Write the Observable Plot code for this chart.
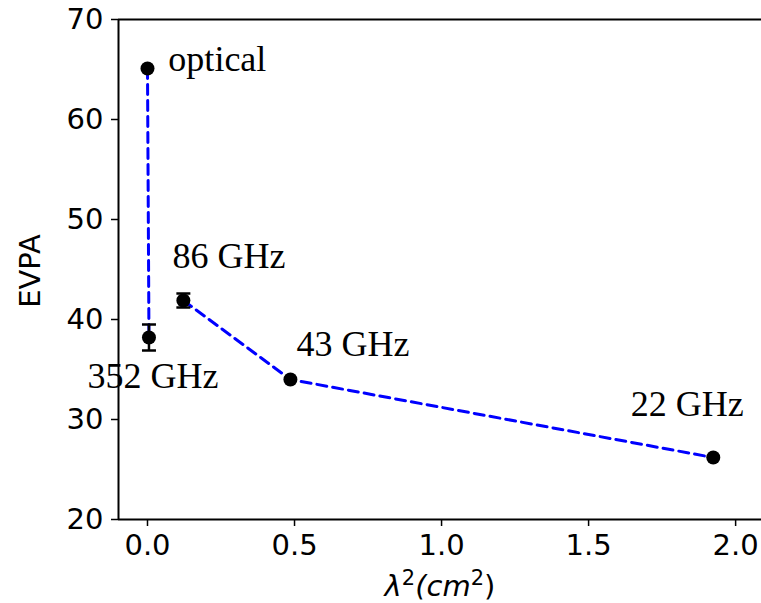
<!DOCTYPE html>
<html>
<head>
<meta charset="utf-8">
<script src="https://cdn.jsdelivr.net/npm/d3@7"></script>
<script src="https://cdn.jsdelivr.net/npm/@observablehq/plot@0.6"></script>
<style>
  html, body { margin: 0; padding: 0; background: #fff; }
  #chart svg { display: block; }
</style>
</head>
<body>
<div id="chart"></div>
<script>
// Data (λ² in cm², EVPA in degrees)
const bands  = ["optical", "352 GHz", "86 GHz", "43 GHz", "22 GHz"];
const lambda2 = [0.0, 0.005, 0.122, 0.486, 1.924];
const evpa    = [65.1, 38.2, 41.9, 34.0, 26.2];
const evpaErr = [0.3, 1.3, 0.7, 0.3, 0.3];
const segment = ["a", "a", "b", "b", "b"];

// label anchor positions (data coordinates)
const labelX = [0.071, -0.204, 0.085, 0.507, 1.643];
const labelY = [64.9, 33.2, 45.2, 36.4, 30.4];

const xTicks = [0, 0.5, 1.0, 1.5, 2.0];
const yTicks = [20, 30, 40, 50, 60, 70];
const xDomain = [-0.0986, 2.088];
const yDomain = [20, 70];

const data = bands.map((b, i) => ({
  band: b, x: lambda2[i], y: evpa[i], err: evpaErr[i], seg: segment[i],
  lx: labelX[i], ly: labelY[i]
}));
const errData = data.filter(d => d.err >= 0.5);

const capSymbol = {
  draw(ctx, size) {
    const w = 7;
    ctx.moveTo(-w, 0);
    ctx.lineTo(w, 0);
  }
};

const chart = Plot.plot({
  width: 761,
  height: 603,
  marginLeft: 118,
  marginRight: 0,
  marginTop: 19,
  marginBottom: 84,
  x: { domain: xDomain },
  y: { domain: yDomain },
  style: { fontFamily: "DejaVu Sans", background: "white", color: "black", overflow: "visible" },
  marks: [
    Plot.axisY(yTicks, { tickSize: 7, tickPadding: 8, fontSize: 29, label: null, strokeWidth: 1.5 }),
    Plot.axisX(xTicks, { tickSize: 7, tickPadding: 8, fontSize: 29, label: null, tickFormat: d3.format(".1f"), strokeWidth: 1.5 }),
    Plot.ruleY([yDomain[0], yDomain[1]], { stroke: "black", strokeWidth: 2 }),
    Plot.ruleX([xDomain[0]], { stroke: "black", strokeWidth: 2 }),
    Plot.line(data, { x: "x", y: "y", z: "seg", stroke: "#0000ff", strokeWidth: 3, strokeDasharray: "10,6" }),
    Plot.ruleX(errData, { x: "x", y1: d => d.y - d.err, y2: d => d.y + d.err, stroke: "black", strokeWidth: 2.5 }),
    Plot.dot(errData, { x: "x", y: d => d.y - d.err, symbol: capSymbol, stroke: "black", strokeWidth: 2.5, r: 7 }),
    Plot.dot(errData, { x: "x", y: d => d.y + d.err, symbol: capSymbol, stroke: "black", strokeWidth: 2.5, r: 7 }),
    Plot.dot(data, { x: "x", y: "y", r: 7, fill: "black" }),
    Plot.text(data, { x: "lx", y: "ly", text: "band", textAnchor: "start", lineAnchor: "bottom", fontFamily: "Liberation Serif", fontSize: 36, fill: "black" })
  ]
});

document.getElementById("chart").appendChild(chart);

const svg = d3.select(chart);
// y-axis title
svg.append("text")
  .attr("transform", "translate(40,271) rotate(-90)")
  .attr("text-anchor", "middle")
  .attr("font-family", "DejaVu Sans")
  .attr("font-size", 29)
  .attr("fill", "black")
  .text("EVPA");
// x-axis title
const xt = svg.append("text")
  .attr("x", 440)
  .attr("y", 596)
  .attr("text-anchor", "middle")
  .attr("font-family", "DejaVu Sans")
  .attr("font-size", 29)
  .attr("font-style", "italic")
  .attr("fill", "black");
xt.append("tspan").text("λ");
xt.append("tspan").attr("font-size", 21).attr("font-style", "normal").attr("dy", -11).text("2");
xt.append("tspan").attr("dy", 11).text("(");
xt.append("tspan").text("cm");
xt.append("tspan").attr("font-size", 21).attr("font-style", "normal").attr("dy", -11).text("2");
xt.append("tspan").attr("dy", 11).attr("font-style", "normal").text(")");
</script>
</body>
</html>
